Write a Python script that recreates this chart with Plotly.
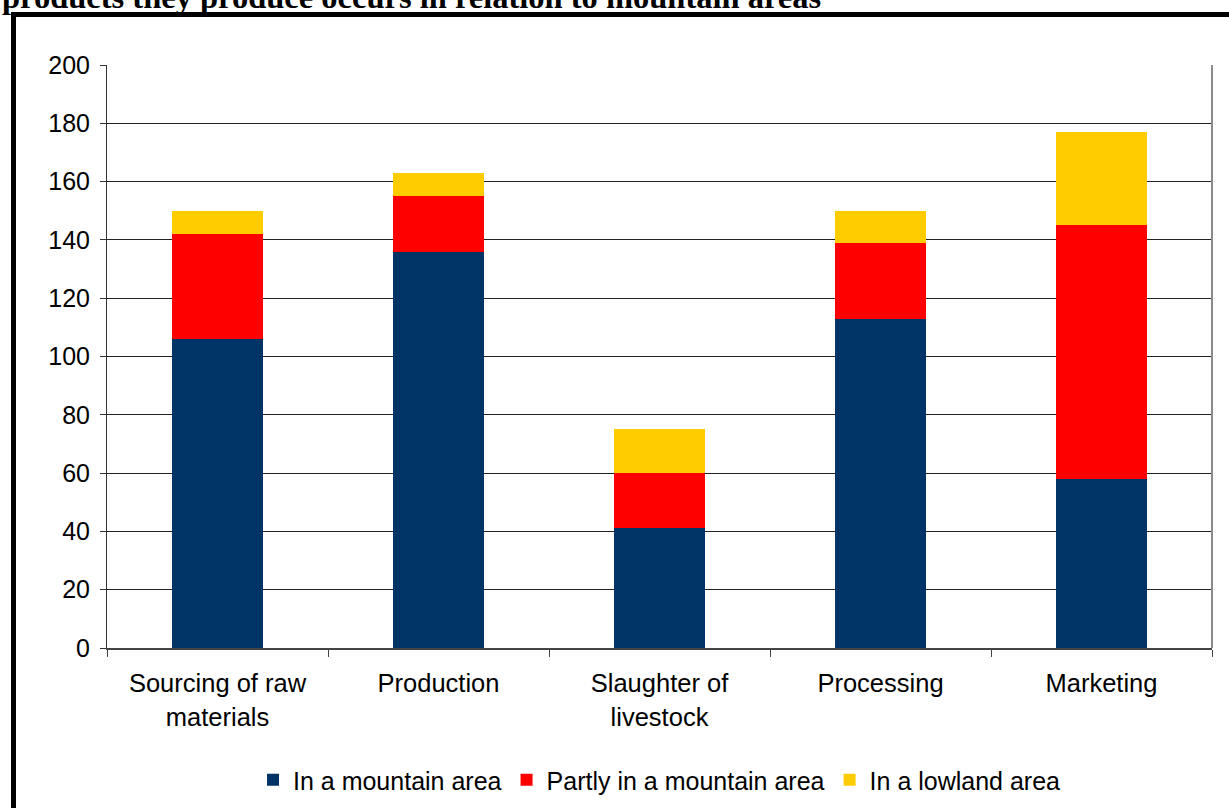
import plotly.graph_objects as go

categories = ["Sourcing of raw<br>materials", "Production", "Slaughter of<br>livestock", "Processing", "Marketing"]
series_names = ["In a mountain area", "Partly in a mountain area", "In a lowland area"]
mountain = [106, 136, 41, 113, 58]
partly = [36, 19, 19, 26, 87]
lowland = [8, 8, 15, 11, 32]
colors = ["#003366", "#FF0000", "#FFCC00"]
y_ticks = [0, 20, 40, 60, 80, 100, 120, 140, 160, 180, 200]
title_text = "products they produce occurs in relation to mountain areas"

W, H = 1229, 808
ml, mr, mt, mb = 107, 17, 65, 160
pw, ph = W - ml - mr, H - mt - mb

def px_x(x):
    return (x - ml) / pw

def px_y(y):
    return (H - mb - y) / ph

fig = go.Figure()
for name, vals, col in zip(series_names, [mountain, partly, lowland], colors):
    fig.add_trace(go.Bar(x=categories, y=vals, name=name, marker_color=col,
                         marker_line_width=0, width=0.41))

font_main = dict(family="Liberation Sans, Arial, sans-serif", size=25, color="black")
font_x = dict(family="Liberation Sans, Arial, sans-serif", size=25.5, color="black")

fig.update_layout(
    width=W, height=H, barmode="stack", autosize=False,
    margin=dict(l=ml, r=mr, t=mt, b=mb, autoexpand=False),
    paper_bgcolor="white", plot_bgcolor="white",
    font=font_main,
    showlegend=True,
    legend=dict(orientation="h", x=0.5, xanchor="center", y=px_y(780), yanchor="middle",
                traceorder="normal", font=font_main, itemwidth=30, bgcolor="rgba(0,0,0,0)"),
    xaxis=dict(showline=True, linecolor="#444", linewidth=1.5, ticks="outside", ticklen=7,
               tickcolor="#444", tickson="boundaries", showgrid=False, tickfont=font_x,
               ticklabelstandoff=12),
    yaxis=dict(range=[0, 200], tickvals=y_ticks, showline=True, linecolor="#333", linewidth=1,
               ticks="outside", ticklen=6, tickcolor="#333", showgrid=True, gridcolor="#222",
               gridwidth=1, zeroline=False, tickfont=font_main, ticklabelstandoff=5),
    shapes=[
        dict(type="line", xref="paper", yref="paper", x0=1, x1=1, y0=0, y1=1,
             line=dict(color="#8c8c8c", width=2)),
        dict(type="line", xref="paper", yref="paper", x0=px_x(14), x1=px_x(1240),
             y0=px_y(14.5), y1=px_y(14.5), line=dict(color="black", width=5)),
        dict(type="line", xref="paper", yref="paper", x0=px_x(13.5), x1=px_x(13.5),
             y0=px_y(12), y1=px_y(820), line=dict(color="black", width=5)),
    ],
    annotations=[
        dict(text="<b>" + title_text + "</b>", xref="paper", yref="paper",
             x=px_x(0), xanchor="left", y=px_y(17), yanchor="bottom", showarrow=False,
             font=dict(family="Liberation Serif, Times New Roman, serif", size=32.5, color="black"))
    ],
)

fig.write_html("out.html", config={"displayModeBar": False},
               post_script="document.body.style.margin='0';document.documentElement.style.overflow='hidden';")
